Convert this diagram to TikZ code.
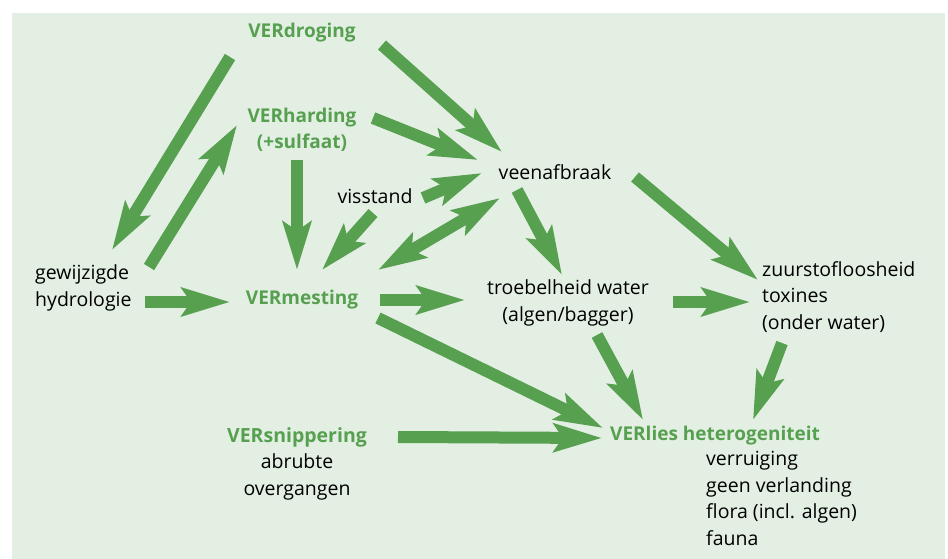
\documentclass[tikz,border=0pt]{standalone}
\usepackage{fontspec}
\setmainfont{Open Sans}
\usetikzlibrary{arrows.meta}

\definecolor{achter}{HTML}{E3EFE3}
\definecolor{groen}{HTML}{56A050}

\begin{document}
\begin{tikzpicture}[x=1pt,y=-1pt,font=\fontsize{19.5}{26.5}\selectfont]
  \tikzset{kop/.tip={Stealth[length=48pt,width=28pt,inset=9pt]}}
  \tikzset{pijl/.style={draw=groen,line width=12pt,-kop}}
  \tikzset{dubbel/.style={draw=groen,line width=12pt,kop-kop}}
  \tikzset{lab/.style={inner sep=0pt,align=center}}
  \tikzset{ver/.style={text=groen,font=\fontsize{19}{26.5}\selectfont\bfseries}}

  % Background
  \useasboundingbox (0,0) rectangle (948,559);
  \fill[white] (0,0) rectangle (948,559);
  \fill[achter] (12,13) rectangle (945,559);

  % Factors
  \node[lab,ver] (droog) at (302,33) {VERdroging};
  \node[lab,ver] (hard) at (302,130) {VERharding\\(+sulfaat)};
  \node[lab] (vis) at (375,196) {visstand};
  \node[lab] (veen) at (555,172) {veenafbraak};
  \node[lab,align=left,anchor=west] (hydro) at (35,288) {gewijzigde\\hydrologie};
  \node[lab,ver] (mest) at (302,300) {VERmesting};
  \node[lab] (troeb) at (568,303) {troebelheid water\\(algen/bagger)};
  \node[lab,align=left,anchor=west] (zuur) at (762,297) {zuurstofloosheid\\toxines\\(onder water)};
  \node[lab,anchor=north] (snip) at (297,427) {\textcolor{groen}{\bfseries VERsnippering}\\abrubte\\overgangen};
  \node[lab,ver,anchor=west] (lies) at (610,436) {VERlies heterogeniteit};
  \node[lab,align=left,anchor=north west] (kenm) at (706,451) {verruiging\\geen verlanding\\flora (incl. algen)\\fauna};

  % Arrows
  \draw[pijl] ([shift={(-72,24)}]droog.center) -- ([shift={(77,-38)}]hydro.west);
  \draw[pijl] ([shift={(114,-21)}]hydro.west) -- ([shift={(-65,-5)}]hard.center);
  \draw[pijl] ([shift={(-5,30)}]hard.center) -- ([shift={(-5,-30)}]mest.center);
  \draw[pijl] ([shift={(-2,17)}]vis.center) -- ([shift={(20,-30)}]mest.center);
  \draw[pijl] ([shift={(48,2)}]vis.center) -- ([shift={(-73,1)}]veen.center);
  \draw[pijl] ([shift={(71,-12)}]hard.center) -- ([shift={(-77,-12)}]veen.center);
  \draw[pijl] ([shift={(80,12)}]droog.center) -- ([shift={(-53,-20)}]veen.center);
  \draw[dubbel] ([shift={(76,-30)}]mest.center) -- ([shift={(-55,26)}]veen.center);
  \draw[pijl] ([shift={(-38,18)}]veen.center) -- ([shift={(-6,-28)}]troeb.center);
  \draw[pijl] ([shift={(110,14)}]hydro.west) -- ([shift={(-72,2)}]mest.center);
  \draw[pijl] ([shift={(78,0)}]mest.center) -- ([shift={(-103,-3)}]troeb.center);
  \draw[pijl] ([shift={(76,18)}]mest.center) -- ([shift={(-7,-8)}]lies.west);
  \draw[pijl] ([shift={(101,10)}]snip.north) -- ([shift={(-8,2)}]lies.west);
  \draw[pijl] ([shift={(29,32)}]troeb.center) -- ([shift={(33,-16)}]lies.west);
  \draw[pijl] ([shift={(80,5)}]veen.center) -- ([shift={(-4,-17)}]zuur.west);
  \draw[pijl] ([shift={(105,-1)}]troeb.center) -- ([shift={(-12,5)}]zuur.west);
  \draw[pijl] ([shift={(20,46)}]zuur.west) -- ([shift={(143,-16)}]lies.west);
\end{tikzpicture}
\end{document}
